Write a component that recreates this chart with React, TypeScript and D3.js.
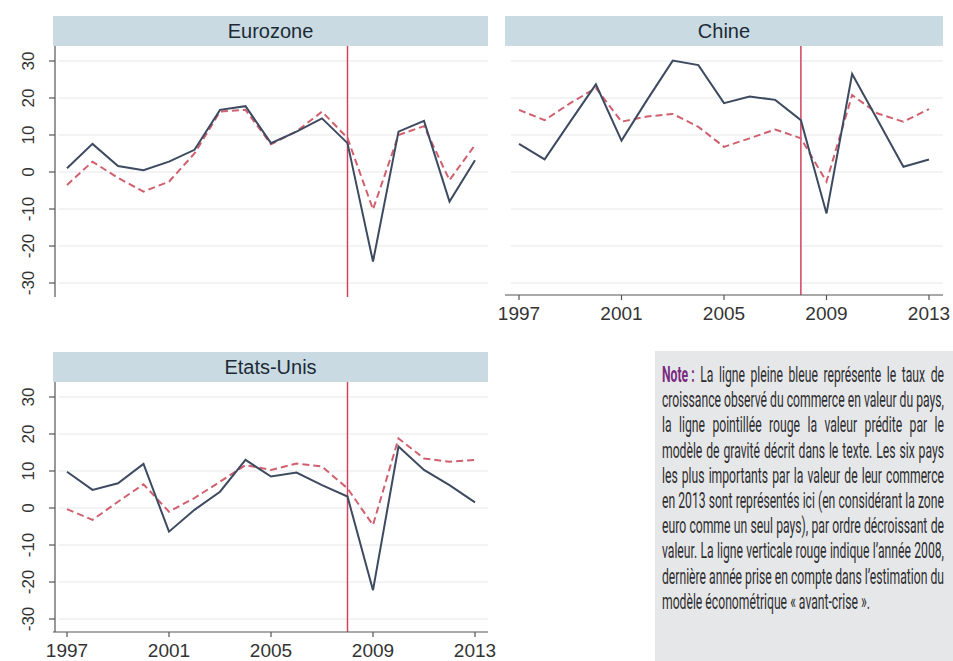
import React from "react";
import * as d3 from "d3";

const years = d3.range(1997, 2014);
const xTickYears = [1997, 2001, 2005, 2009, 2013];
const yTicks = [-30, -20, -10, 0, 10, 20, 30];

const euroObserved = [1.0, 7.6, 1.6, 0.5, 2.8, 6.0, 16.8, 17.8, 7.8, 10.9, 14.5, 7.8, -24.2, 10.9, 13.8, -8.0, 3.2];
const euroPredicted = [-3.5, 2.8, -1.6, -5.3, -2.6, 5.0, 16.3, 16.8, 7.5, 11.0, 16.3, 9.2, -10.1, 10.0, 12.4, -2.2, 7.3];

const chinaObserved = [7.6, 3.4, 13.6, 23.7, 8.5, 19.5, 30.1, 28.9, 18.6, 20.4, 19.5, 14.0, -11.2, 26.5, 14.0, 1.4, 3.4];
const chinaPredicted = [16.8, 14.0, 18.6, 22.7, 13.6, 15.0, 15.7, 12.2, 6.8, 9.1, 11.5, 9.1, -2.6, 20.8, 15.8, 13.6, 17.0];

const usObserved = [9.8, 4.9, 6.7, 11.9, -6.4, -0.5, 4.4, 13.0, 8.5, 9.6, 6.2, 3.1, -22.2, 16.6, 10.3, 6.2, 1.5];
const usPredicted = [-0.3, -3.2, 1.7, 6.4, -1.0, 2.7, 7.1, 11.6, 10.3, 12.0, 11.2, 5.3, -4.6, 18.8, 13.4, 12.5, 13.0];

const crisisYear = 2008;

const noteLabel = "Note :";
const noteLines = [
  "La ligne pleine bleue représente le taux de",
  "croissance observé du commerce en valeur du pays,",
  "la ligne pointillée rouge la valeur prédite par le",
  "modèle de gravité décrit dans le texte. Les six pays",
  "les plus importants par la valeur de leur commerce",
  "en 2013 sont représentés ici (en considérant la zone",
  "euro comme un seul pays), par ordre décroissant de",
  "valeur. La ligne verticale rouge indique l’année 2008,",
  "dernière année prise en compte dans l’estimation du",
  "modèle économétrique « avant-crise ».",
];

const SOLID = "#3d4a60";
const DASH = "#d0606e";
const VLINE = "#d2435e";
const HEADER = "#c9dae3";
const GRID = "#eceff1";
const AXIS = "#555";
const FONT = "Liberation Sans, Arial, sans-serif";
const NOTE_FONT = "Roboto";
const NOTE_FS = 22;
const NOTE_WEIGHT = 400;

type PanelProps = {
  title: string;
  left: number;
  right: number;
  headerTop: number;
  x0: number;
  x1: number;
  yTop: number;
  yBottom: number;
  axisBottom: number;
  observed: number[];
  predicted: number[];
  showY: boolean;
  showX: boolean;
};

function Panel(p: PanelProps) {
  const x = d3.scaleLinear().domain([1997, 2013]).range([p.x0, p.x1]);
  const y = d3.scaleLinear().domain([-30, 30]).range([p.yBottom, p.yTop]);
  const line = d3
    .line<number>()
    .x((_, i) => x(years[i]))
    .y((v) => y(v));
  const headerBottom = p.headerTop + 30;
  return (
    <g>
      <rect x={p.left} y={p.headerTop} width={p.right - p.left} height={30} fill={HEADER} />
      <text
        x={(p.left + p.right) / 2}
        y={p.headerTop + 22}
        textAnchor="middle"
        fontFamily={FONT}
        fontSize={20}
        fill="#1c2a36"
      >
        {p.title}
      </text>
      {yTicks.map((t) => (
        <line key={t} x1={p.left + 6} x2={p.right} y1={y(t)} y2={y(t)} stroke={GRID} strokeWidth={1.5} />
      ))}
      <line
        x1={x(crisisYear)}
        x2={x(crisisYear)}
        y1={headerBottom}
        y2={p.axisBottom}
        stroke={VLINE}
        strokeWidth={1.5}
      />
      <path d={line(p.predicted) || ""} fill="none" stroke={DASH} strokeWidth={2} strokeDasharray="7,4" />
      <path d={line(p.observed) || ""} fill="none" stroke={SOLID} strokeWidth={2} />
      {p.showY && (
        <g>
          <line x1={p.left + 2} x2={p.left + 2} y1={headerBottom} y2={p.axisBottom} stroke={AXIS} strokeWidth={1.2} />
          {yTicks.map((t) => (
            <g key={t}>
              <line x1={p.left - 4} x2={p.left + 2} y1={y(t)} y2={y(t)} stroke={AXIS} strokeWidth={1.2} />
              <text
                transform={`translate(${p.left - 25},${y(t)}) rotate(-90)`}
                textAnchor="middle"
                dominantBaseline="central"
                fontFamily={FONT}
                fontSize={17}
                fill="#333"
              >
                {t}
              </text>
            </g>
          ))}
        </g>
      )}
      {p.showX && (
        <g>
          <line x1={p.left} x2={p.right} y1={p.axisBottom} y2={p.axisBottom} stroke={AXIS} strokeWidth={1.2} />
          {xTickYears.map((t) => (
            <g key={t}>
              <line x1={x(t)} x2={x(t)} y1={p.axisBottom} y2={p.axisBottom + 5} stroke={AXIS} strokeWidth={1.2} />
              <text
                x={x(t)}
                y={p.axisBottom + 25}
                textAnchor="middle"
                fontFamily={FONT}
                fontSize={19}
                fill="#333"
              >
                {t}
              </text>
            </g>
          ))}
        </g>
      )}
    </g>
  );
}

let measureCtx: CanvasRenderingContext2D | null = null;
function measure(text: string, bold: boolean): number {
  if (!measureCtx) {
    measureCtx = document.createElement("canvas").getContext("2d");
  }
  if (!measureCtx) return text.length * NOTE_FS * 0.5;
  measureCtx.font = `${bold ? "bold" : NOTE_WEIGHT} ${NOTE_FS}px ${NOTE_FONT}`;
  return measureCtx.measureText(text).width;
}

function Note() {
  const left = 662;
  const width = 282;
  const y0 = 382;
  const lh = 25.2;
  // calibrate horizontal compression on a line that sits at natural spacing
  const sx = width / measure(noteLines[1], false);
  return (
    <g>
      <rect x={655} y={351} width={298} height={310} fill="#e6e7e9" />
      {noteLines.map((l, i) => {
        const tokens = l.split(" ").map((w) => ({ w, bold: false }));
        if (i === 0) tokens.unshift({ w: noteLabel, bold: true });
        const widths = tokens.map((t) => measure(t.w, t.bold) * sx);
        const total = d3.sum(widths);
        const justify = i < noteLines.length - 1;
        const spaceW = measure(" ", false) * sx;
        const gap = justify ? (width - total) / (tokens.length - 1) : spaceW;
        let cx = left;
        const xs = widths.map((w) => {
          const v = cx;
          cx += w + gap;
          return v;
        });
        return (
          <text
            key={i}
            transform={`translate(0,${y0 + i * lh}) scale(${sx},1)`}
            fontFamily={NOTE_FONT}
            fontSize={NOTE_FS}
            fontWeight={NOTE_WEIGHT}
            fill="#2e2e30"
          >
            {tokens.map((t, j) => (
              <tspan
                key={j}
                x={xs[j] / sx}
                y={0}
                fontWeight={t.bold ? "bold" : NOTE_WEIGHT}
                fill={t.bold ? "#7a2a80" : "#2e2e30"}
              >
                {t.w}
              </tspan>
            ))}
          </text>
        );
      })}
    </g>
  );
}

export default function App() {
  return (
    <svg
      width={953}
      height={661}
      style={{ position: "absolute", left: 0, top: 0, background: "#fff" }}
    >
      <rect x={0} y={0} width={953} height={661} fill="#fff" />
      <Panel
        title="Eurozone"
        left={53}
        right={488}
        headerTop={16}
        x0={67}
        x1={475}
        yTop={61}
        yBottom={283}
        axisBottom={297}
        observed={euroObserved}
        predicted={euroPredicted}
        showY={true}
        showX={false}
      />
      <Panel
        title="Chine"
        left={505}
        right={943}
        headerTop={16}
        x0={519}
        x1={929}
        yTop={61}
        yBottom={283}
        axisBottom={295}
        observed={chinaObserved}
        predicted={chinaPredicted}
        showY={false}
        showX={true}
      />
      <Panel
        title="Etats-Unis"
        left={53}
        right={488}
        headerTop={352}
        x0={67}
        x1={475}
        yTop={397}
        yBottom={619}
        axisBottom={632}
        observed={usObserved}
        predicted={usPredicted}
        showY={true}
        showX={true}
      />
      <Note />
    </svg>
  );
}
